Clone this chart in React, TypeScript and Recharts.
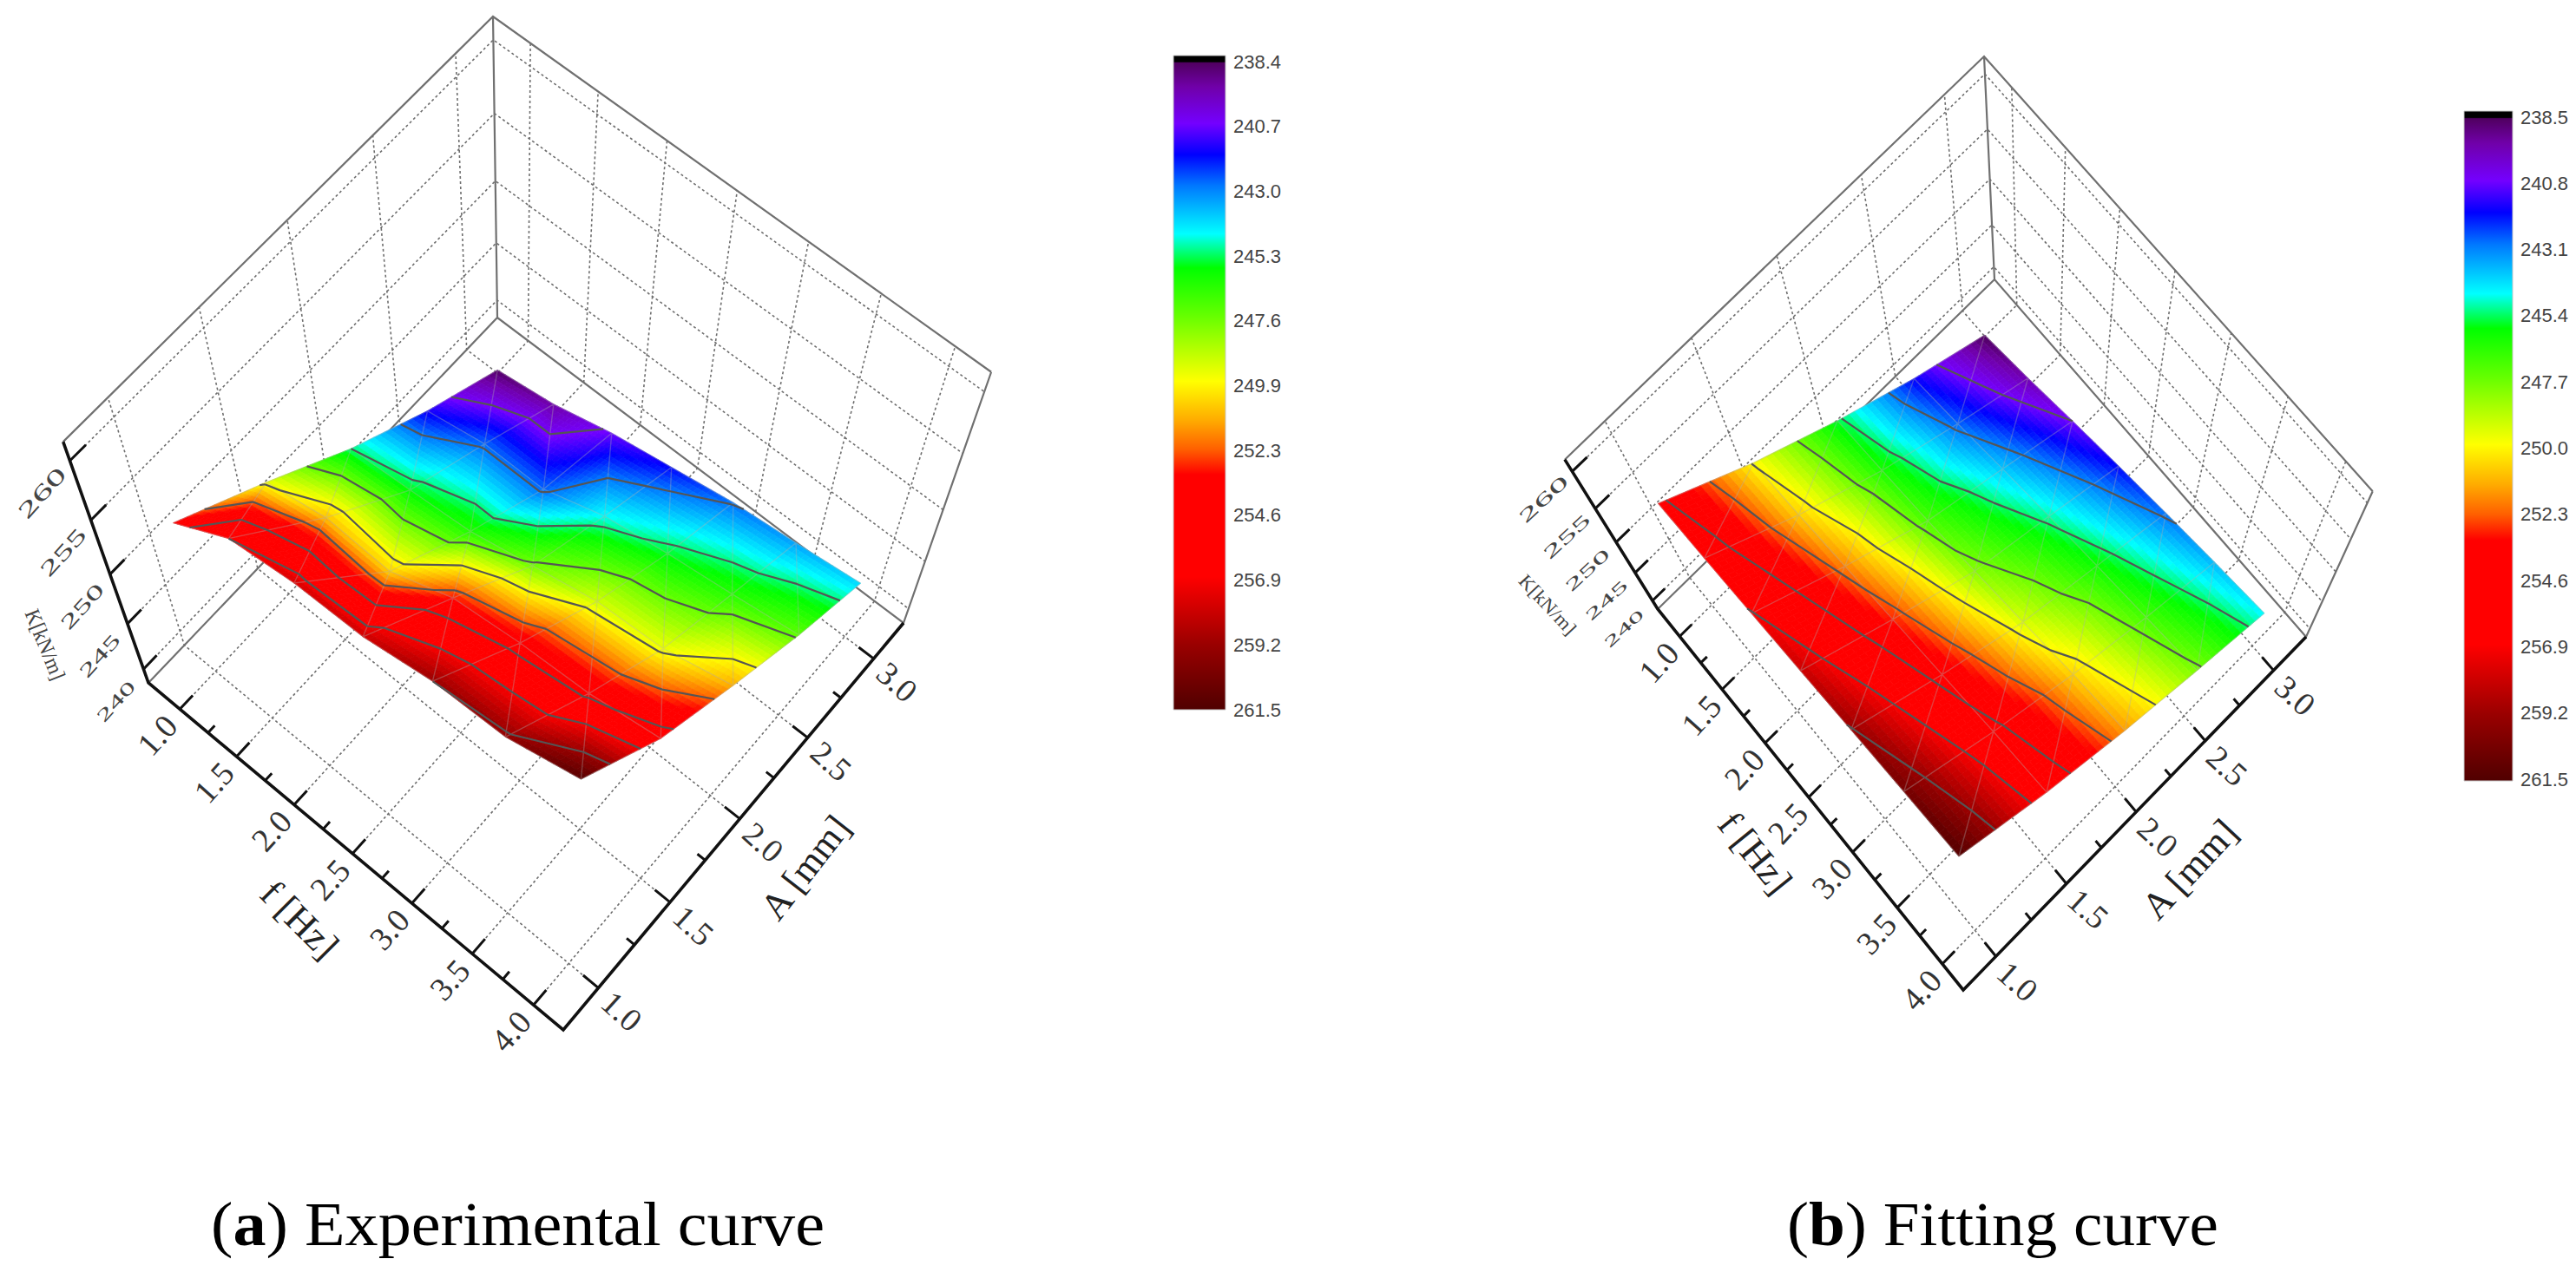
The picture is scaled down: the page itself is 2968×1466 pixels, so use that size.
import {ComposedChart, Line, ReferenceArea, Scatter, XAxis, YAxis} from "recharts";

const W = 2968;
const H = 1466;

// grid of the measurements
const fValues = [1, 1.5, 2, 2.5, 3, 3.5, 4];
const aValues = [1, 1.5, 2, 2.5, 3];

// K[kN/m], one row per f, one column per A
const kExperimental = [
    [253.6, 249.6, 245.3, 241.7, 238.7],
    [256.9, 250.9, 245.8, 242.8, 239.5],
    [257.8, 250.6, 246.4, 242.8, 240.9],
    [258.0, 253.0, 247.8, 244.7, 241.9],
    [259.2, 253.8, 249.2, 245.7, 242.9],
    [259.5, 254.2, 249.6, 246.5, 243.5],
    [261.3, 255.3, 251.2, 247.4, 244.2],
];
const kFitting = [
    [255.0, 249.9, 245.6, 241.8, 238.6],
    [255.9, 250.7, 246.3, 242.8, 239.6],
    [257.0, 251.8, 247.1, 244.0, 240.8],
    [258.1, 252.9, 248.1, 245.1, 241.9],
    [259.3, 254.0, 249.3, 246.1, 242.9],
    [260.4, 255.1, 250.6, 247.0, 243.8],
    [261.4, 255.9, 251.5, 247.9, 244.6],
];

const fTicks = [1, 1.5, 2, 2.5, 3, 3.5, 4];
const fMinorTicks = [1.25, 1.75, 2.25, 2.75, 3.25, 3.75];
const aTicks = [1, 1.5, 2, 2.5, 3];
const aMinorTicks = [1.25, 1.75, 2.25, 2.75];
const zTicks = [240, 245, 250, 255, 260];

const barLabelsA = ["238.4", "240.7", "243.0", "245.3", "247.6", "249.9", "252.3", "254.6", "256.9", "259.2", "261.5"];
const barLabelsB = ["238.5", "240.8", "243.1", "245.4", "247.7", "250.0", "252.3", "254.6", "256.9", "259.2", "261.5"];

// colour map
const stopValues = [238.4, 238.62, 238.66, 239.5, 240.8, 241.9, 243, 244.7, 245.9, 247.6, 249.9, 251.3, 252.3, 253.2, 256.8, 259.2, 261.5];
const stopColors = ["#000000", "#000000", "#500060", "#7000a8", "#7400ff", "#0000ff", "#0078ff", "#00ffff", "#00ff00", "#66ff00", "#ffff00", "#ffaa00", "#ff6000", "#ff0000", "#ff0000", "#9a0000", "#500000"];

const zMin = 238.4;
const zMax = 261.5;

type Pt = [number, number];
interface Panel {
    fl: Pt; f: Pt; fr: Pt; b: Pt; t: Pt; l: Pt;
    fRange: Pt; aRange: Pt;
    fLabelOff: Pt; aLabelOff: Pt; zLabelOff: Pt;
    zRot: number; zSquash: number;
    fTitle: Pt; aTitle: Pt; kTitle: Pt; kRot: number; kSquash: number;
    fTitleRot: number; aTitleRot: number;
    bar: {x1: number; x2: number; y1: number; y2: number; labelX: number; top: number; bottom: number};
    barLabels: string[];
    captionLetter: string; captionText: string; captionX: number; captionLen: number;
}

const panelA: Panel = {
    fl: [171, 787], f: [649, 1187], fr: [1041, 718], b: [573, 366], t: [568, 19], l: [72, 507],
    fRange: [0.72, 4.24], aRange: [0.76, 3.23],
    fLabelOff: [-26, 30], aLabelOff: [27, 27], zLabelOff: [-32, 37],
    zRot: -48, zSquash: 0.85,
    fTitle: [345, 1060], aTitle: [928, 1000], kTitle: [52, 743], kRot: 68, kSquash: 0.95,
    fTitleRot: 45, aTitleRot: -52,
    bar: {x1: 1352, x2: 1412, y1: 64, y2: 818, labelX: 1421, top: 71, bottom: 818},
    barLabels: barLabelsA,
    captionLetter: "a", captionText: ") Experimental curve", captionX: 243, captionLen: 707,
};
const panelB: Panel = {
    fl: [1910, 702], f: [2262, 1141], fr: [2657, 734], b: [2298, 322], t: [2286, 65], l: [1800, 525],
    fRange: [0.74, 4.23], aRange: [0.77, 3.24],
    fLabelOff: [-24, 30], aLabelOff: [25, 29], zLabelOff: [-33, 32],
    zRot: -43, zSquash: 0.7,
    fTitle: [2022, 983], aTitle: [2523, 1002], kTitle: [1783, 697], kRot: 47, kSquash: 0.85,
    fTitleRot: 51, aTitleRot: -47,
    bar: {x1: 2839, x2: 2895, y1: 128, y2: 900, labelX: 2904, top: 135, bottom: 898},
    barLabels: barLabelsB,
    captionLetter: "b", captionText: ") Fitting curve", captionX: 2059, captionLen: 497,
};

// perspective of the box: floor homography plus the vanishing point of the verticals
function makeProjection(p: Panel) {
    const [x0, y0] = p.fl, [x1, y1] = p.f, [x2, y2] = p.fr, [x3, y3] = p.b;
    const sx = x0 - x1 + x2 - x3, sy = y0 - y1 + y2 - y3;
    const dx1 = x1 - x2, dx2 = x3 - x2, dy1 = y1 - y2, dy2 = y3 - y2;
    const det = dx1 * dy2 - dx2 * dy1;
    const g = (sx * dy2 - dx2 * sy) / det;
    const h = (dx1 * sy - sx * dy1) / det;
    const a = x1 - x0 + g * x1, b = x3 - x0 + h * x3, c = x0;
    const d = y1 - y0 + g * y1, e = y3 - y0 + h * y3, f = y0;
    // verticals through fl-l and b-t meet at (vx, vy)
    const m1 = (p.l[0] - x0) / (p.l[1] - y0);
    const m2 = (p.t[0] - x3) / (p.t[1] - y3);
    const vy = (x3 - m2 * y3 - x0 + m1 * y0) / (m1 - m2);
    const vx = x3 + m2 * (vy - y3);
    const lambda = (1 + h) * (p.t[1] - y3) / (vy - p.t[1]);
    return (u: number, v: number, w: number): Pt => {
        const den = g * u + h * v + 1 + lambda * w;
        return [(a * u + b * v + c + lambda * vx * w) / den, (d * u + e * v + f + lambda * vy * w) / den];
    };
}

function colorAt(k: number) {
    let i = 0;
    while (i < stopValues.length - 2 && k > stopValues[i + 1]) i++;
    const t = Math.max(0, Math.min(1, (k - stopValues[i]) / (stopValues[i + 1] - stopValues[i])));
    const c0 = stopColors[i], c1 = stopColors[i + 1];
    const mix = (s: number) => {
        const v0 = parseInt(c0.slice(s, s + 2), 16), v1 = parseInt(c1.slice(s, s + 2), 16);
        return Math.round(v0 + (v1 - v0) * t);
    };
    return `rgb(${mix(1)},${mix(3)},${mix(5)})`;
}

interface Row {x: number; y: number | null}

function buildPanel(p: Panel, grid: number[][]) {
    const proj = makeProjection(p);
    const U = (f: number) => (f - p.fRange[0]) / (p.fRange[1] - p.fRange[0]);
    const V = (a: number) => (a - p.aRange[0]) / (p.aRange[1] - p.aRange[0]);
    const Z = (k: number) => (k - zMin) / (zMax - zMin);

    const seg = (out: Row[], pts: Pt[]) => {
        pts.forEach(q => out.push({x: q[0], y: q[1]}));
        const last = pts[pts.length - 1];
        out.push({x: last[0], y: null});
    };

    const frame: Row[] = [], axes: Row[] = [], ticks: Row[] = [], dotted: Row[] = [];
    const mesh: Row[] = [], contours: Row[] = [];

    seg(frame, [proj(0, 0, 1), proj(0, 1, 1), proj(1, 1, 1)]);
    seg(frame, [proj(0, 1, 1), proj(0, 1, 0)]);
    seg(frame, [proj(0, 0, 0), proj(0, 1, 0), proj(1, 1, 0), proj(1, 1, 1)]);
    seg(axes, [proj(0, 0, 1), proj(0, 0, 0), proj(1, 0, 0), proj(1, 1, 0)]);

    fTicks.forEach(f => {
        const u = U(f);
        seg(dotted, [proj(u, 0, 0), proj(u, 1, 0), proj(u, 1, 1)]);
        seg(ticks, [proj(u, 0, 0), proj(u, 0.035, 0)]);
    });
    fMinorTicks.forEach(f => seg(ticks, [proj(U(f), 0, 0), proj(U(f), 0.018, 0)]));
    aTicks.forEach(a => {
        const v = V(a);
        seg(dotted, [proj(1, v, 0), proj(0, v, 0), proj(0, v, 1)]);
        seg(ticks, [proj(1, v, 0), proj(0.965, v, 0)]);
    });
    aMinorTicks.forEach(a => seg(ticks, [proj(1, V(a), 0), proj(0.982, V(a), 0)]));
    zTicks.forEach(z => {
        const w = Z(z);
        seg(dotted, [proj(0, 0, w), proj(0, 1, w), proj(1, 1, w)]);
        seg(ticks, [proj(0, 0, w), proj(0, 0.035, w)]);
    });

    // surface, cut in small flat pieces, painted from the back to the front
    const kAt = (i: number, j: number, s: number, t: number) => s + t <= 1
        ? grid[i][j] + s * (grid[i + 1][j] - grid[i][j]) + t * (grid[i][j + 1] - grid[i][j])
        : grid[i + 1][j + 1] + (1 - s) * (grid[i][j + 1] - grid[i + 1][j + 1]) + (1 - t) * (grid[i + 1][j] - grid[i + 1][j + 1]);
    const node = (i: number, j: number, s: number, t: number): Pt => {
        const f = fValues[i] + s * (fValues[i + 1] - fValues[i]);
        const a = aValues[j] + t * (aValues[j + 1] - aValues[j]);
        return proj(U(f), V(a), Z(kAt(i, j, s, t)));
    };

    const pieces: any[] = [];
    const n = 14;
    for (let i = 0; i < fValues.length - 1; i++) {
        for (let j = aValues.length - 2; j >= 0; j--) {
            for (let a = 0; a < n; a++) {
                for (let b = n - 1; b >= 0; b--) {
                    const corners = [
                        node(i, j, a / n, b / n),
                        node(i, j, (a + 1) / n, b / n),
                        node(i, j, (a + 1) / n, (b + 1) / n),
                        node(i, j, a / n, (b + 1) / n),
                    ];
                    const cx = corners.reduce((sum, q) => sum + q[0], 0) / 4;
                    const cy = corners.reduce((sum, q) => sum + q[1], 0) / 4;
                    pieces.push({
                        x: cx, y: cy,
                        color: colorAt(kAt(i, j, (a + 0.5) / n, (b + 0.5) / n)),
                        off: corners.map(q => [q[0] - cx, q[1] - cy]),
                    });
                }
            }
        }
    }

    // mesh lines of the surface
    const surf = (i: number, j: number): Pt => proj(U(fValues[i]), V(aValues[j]), Z(grid[i][j]));
    fValues.forEach((_, i) => seg(mesh, aValues.map((__, j) => surf(i, j))));
    aValues.forEach((_, j) => seg(mesh, fValues.map((__, i) => surf(i, j))));
    for (let i = 0; i < fValues.length - 1; i++) {
        for (let j = 0; j < aValues.length - 1; j++) seg(mesh, [surf(i, j + 1), surf(i + 1, j)]);
    }

    // contour lines on the triangles; the small shift keeps a level that sits exactly on a node from dropping out
    const levels = p.barLabels.slice(1, -1).map(s => Number(s) + 0.001);
    const triangle = (q: number[][]) => {
        levels.forEach(level => {
            const hits: Pt[] = [];
            for (let e = 0; e < 3; e++) {
                const q0 = q[e], q1 = q[(e + 1) % 3];
                if ((q0[2] - level) * (q1[2] - level) < 0) {
                    const t = (level - q0[2]) / (q1[2] - q0[2]);
                    hits.push(proj(U(q0[0] + t * (q1[0] - q0[0])), V(q0[1] + t * (q1[1] - q0[1])), Z(level)));
                }
            }
            if (hits.length === 2) seg(contours, hits);
        });
    };
    for (let i = 0; i < fValues.length - 1; i++) {
        for (let j = 0; j < aValues.length - 1; j++) {
            const f0 = fValues[i], f1 = fValues[i + 1], a0 = aValues[j], a1 = aValues[j + 1];
            triangle([[f0, a0, grid[i][j]], [f1, a0, grid[i + 1][j]], [f0, a1, grid[i][j + 1]]]);
            triangle([[f1, a1, grid[i + 1][j + 1]], [f1, a0, grid[i + 1][j]], [f0, a1, grid[i][j + 1]]]);
        }
    }

    // texts
    const serif = "'Liberation Serif', serif";
    const sans = "'Liberation Sans', sans-serif";
    const labels: any[] = [];
    fTicks.forEach(f => {
        const q = proj(U(f), 0, 0);
        labels.push({x: q[0] + p.fLabelOff[0], y: q[1] + p.fLabelOff[1], text: f.toFixed(1), rot: -48, size: 38, family: serif, fill: "#333"});
    });
    aTicks.forEach(a => {
        const q = proj(1, V(a), 0);
        labels.push({x: q[0] + p.aLabelOff[0], y: q[1] + p.aLabelOff[1], text: a.toFixed(1), rot: 42, size: 38, family: serif, fill: "#333"});
    });
    zTicks.forEach(z => {
        const q = proj(0, 0, Z(z));
        const s = 0.8 + 0.2 * (z - 240) / 20;
        labels.push({x: q[0] + p.zLabelOff[0], y: q[1] + p.zLabelOff[1], text: String(z), rot: p.zRot, size: 30 * s, sx: 1.55, sy: p.zSquash, family: serif, fill: "#444"});
    });
    labels.push({x: p.fTitle[0], y: p.fTitle[1], text: "f [Hz]", rot: p.fTitleRot, size: 44, family: serif, fill: "#222"});
    labels.push({x: p.aTitle[0], y: p.aTitle[1], text: "A [mm]", rot: p.aTitleRot, size: 44, family: serif, fill: "#222"});
    labels.push({x: p.kTitle[0], y: p.kTitle[1], text: "K[kN/m]", rot: p.kRot, size: 26, sx: 0.9, sy: p.kSquash, family: serif, fill: "#444"});
    p.barLabels.forEach((text, i) => {
        labels.push({
            x: p.bar.labelX, y: p.bar.top + (p.bar.bottom - p.bar.top) * i / (p.barLabels.length - 1),
            text, rot: 0, size: 22, family: sans, fill: "#444", anchor: "start",
        });
    });
    labels.push({x: p.captionX, y: 1435, letter: p.captionLetter, text: p.captionText, size: 72, family: serif, fill: "#000", caption: p.captionLen});

    return {frame, axes, ticks, dotted, mesh, contours, pieces, labels};
}

const left = buildPanel(panelA, kExperimental);
const right = buildPanel(panelB, kFitting);

const dottedRows = [...left.dotted, ...right.dotted];
const frameRows = [...left.frame, ...right.frame];
const meshRows = [...left.mesh, ...right.mesh];
const contourRows = [...left.contours, ...right.contours];
const axisRows = [...left.axes, ...right.axes];
const tickRows = [...left.ticks, ...right.ticks];
const pieceRows = [...left.pieces, ...right.pieces];
const labelRows = [...left.labels, ...right.labels];

const Piece = ({cx, cy, payload}: any) => {
    const d = payload.off.map((q: number[], i: number) => `${i ? "L" : "M"}${cx + q[0]} ${cy + q[1]}`).join("") + "Z";
    return <path d={d} fill={payload.color} stroke={payload.color} strokeWidth={0.8} />;
};

const Label = ({cx, cy, payload}: any) => {
    if (payload.caption) {
        return (
            <text x={cx} y={cy} fontFamily={payload.family} fontSize={payload.size} fill={payload.fill}
                  textLength={payload.caption} lengthAdjust="spacingAndGlyphs">
                (<tspan fontWeight="bold">{payload.letter}</tspan>{payload.text}
            </text>
        );
    }
    return (
        <text
            transform={`translate(${cx} ${cy}) rotate(${payload.rot}) scale(${payload.sx ?? 1} ${payload.sy ?? 1})`}
            textAnchor={payload.anchor ?? "middle"}
            dominantBaseline="central"
            fontFamily={payload.family}
            fontSize={payload.size}
            fill={payload.fill}
        >
            {payload.text}
        </text>
    );
};

const lineProps = {dataKey: "y", dot: false, activeDot: false, isAnimationActive: false, legendType: "none"} as any;

export default function App() {
    return (
        <div style={{position: "absolute", left: 0, top: 0, width: W, height: H, background: "#fff"}}>
            <ComposedChart width={W} height={H} margin={{top: 0, right: 0, bottom: 0, left: 0}}>
                <defs>
                    <linearGradient id="barFill" x1="0" y1="0" x2="0" y2="1">
                        {stopValues.map((k, i) => (
                            <stop key={i} offset={(k - zMin) / (zMax - zMin)} stopColor={stopColors[i]} />
                        ))}
                    </linearGradient>
                </defs>
                <XAxis type="number" dataKey="x" domain={[0, W]} hide allowDataOverflow />
                <YAxis type="number" dataKey="y" domain={[0, H]} reversed hide allowDataOverflow />
                {[panelA, panelB].map(p => (
                    <ReferenceArea key={p.captionLetter} x1={p.bar.x1} x2={p.bar.x2} y1={p.bar.y1} y2={p.bar.y2}
                                   fill="url(#barFill)" fillOpacity={1} stroke="#c8c8c8" strokeWidth={1} />
                ))}
                <Line {...lineProps} data={dottedRows} stroke="#6e6e6e" strokeWidth={1.6} strokeDasharray="3 3" zIndex={100} />
                <Line {...lineProps} data={frameRows} stroke="#707070" strokeWidth={2.2} zIndex={101} />
                <Scatter data={pieceRows} shape={Piece} isAnimationActive={false} legendType="none" zIndex={102} />
                <Line {...lineProps} data={meshRows} stroke="#b0b0b0" strokeOpacity={0.35} strokeWidth={1.4} zIndex={103} />
                <Line {...lineProps} data={contourRows} stroke="#555555" strokeWidth={2.2} zIndex={104} />
                <Line {...lineProps} data={axisRows} stroke="#111111" strokeWidth={3.6} zIndex={105} />
                <Line {...lineProps} data={tickRows} stroke="#111111" strokeWidth={3} zIndex={106} />
                <Scatter data={labelRows} shape={Label} isAnimationActive={false} legendType="none" zIndex={107} />
            </ComposedChart>
        </div>
    );
}
